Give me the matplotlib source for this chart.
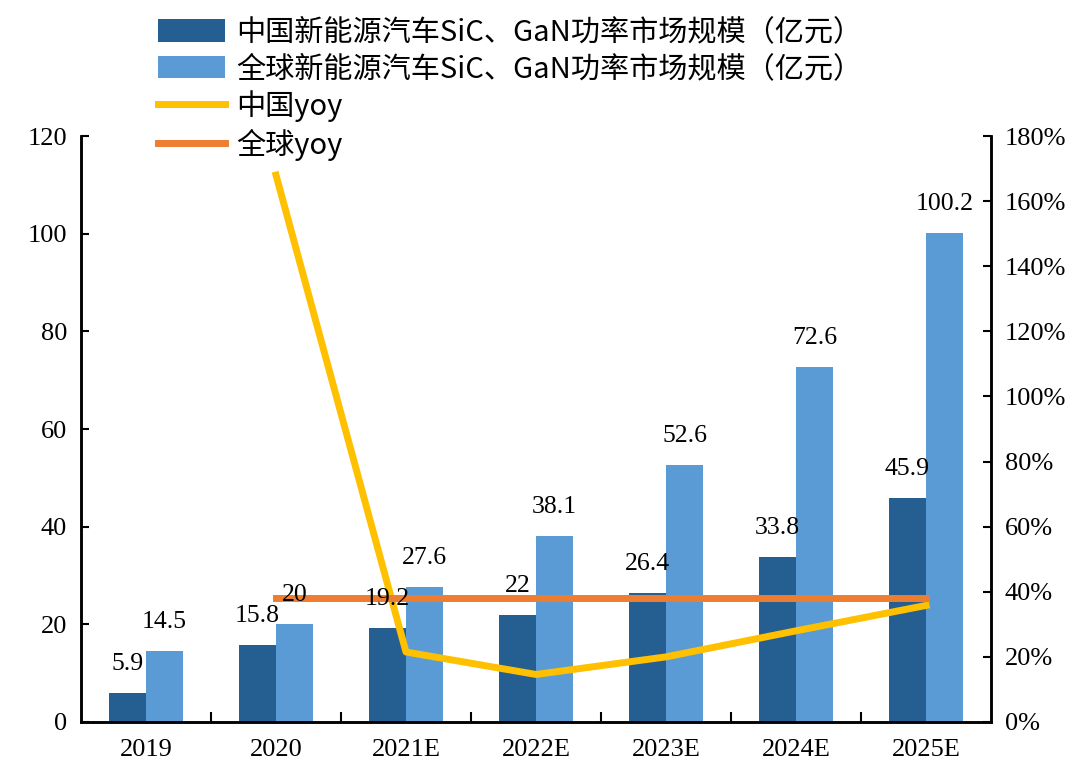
import numpy as np
import matplotlib
matplotlib.use("Agg")
from matplotlib import pyplot as plt
from matplotlib.ticker import FuncFormatter, FixedLocator

# data
years = ["2019", "2020", "2021E", "2022E", "2023E", "2024E", "2025E"]
cn_size = [5.9, 15.8, 19.2, 22, 26.4, 33.8, 45.9]
gl_size = [14.5, 20, 27.6, 38.1, 52.6, 72.6, 100.2]
cn_yoy = [np.nan, 168, 21.5, 14.6, 20, 28, 35.8]
gl_yoy = [np.nan, 38, 38, 38, 38, 38, 38]

cn_color = "#255E91"
gl_color = "#5B9BD5"
cn_line = "#FFC000"
gl_line = "#ED7D31"

serif = "Liberation Serif"
cjk = ["Noto Sans CJK SC", "DejaVu Sans"]

fig = plt.figure(figsize=(10.8, 7.76), dpi=100)
ax = fig.add_axes([0.075, 0.0696, 0.8426, 0.7551])
ax2 = ax.twinx()

x = np.arange(len(years))
w = 0.285
b1 = ax.bar(x - w / 2, cn_size, w, color=cn_color, zorder=2,
            label="中国新能源汽车SiC、GaN功率市场规模（亿元）")
b2 = ax.bar(x + w / 2, gl_size, w, color=gl_color, zorder=2,
            label="全球新能源汽车SiC、GaN功率市场规模（亿元）")

l1, = ax2.plot(x, cn_yoy, color=cn_line, lw=5, zorder=3, label="中国yoy")
l2, = ax2.plot(x, gl_yoy, color=gl_line, lw=5, zorder=4, label="全球yoy")

# value labels (drawn on the twin axes so they sit above the lines)
for xi, v in zip(x - w / 2, cn_size):
    ax2.annotate(f"{v:g}", (xi, v * 1.5), xytext=(0, 13), textcoords="offset points",
                 ha="center", va="bottom", fontsize=18.5, family=serif, zorder=6)
for xi, v in zip(x + w / 2, gl_size):
    ax2.annotate(f"{v:g}", (xi, v * 1.5), xytext=(0, 13), textcoords="offset points",
                 ha="center", va="bottom", fontsize=18.5, family=serif, zorder=6)

ax.set_xlim(-0.5, len(years) - 0.5)
ax.set_ylim(0, 120)
ax2.set_ylim(0, 180)
ax.set_yticks(np.arange(0, 121, 20))
ax2.set_yticks(np.arange(0, 181, 20))
ax2.yaxis.set_major_formatter(FuncFormatter(lambda v, p: f"{v:.0f}%"))

ax.set_xticks(x)
ax.set_xticklabels(years)
ax.xaxis.set_minor_locator(FixedLocator(np.arange(0.5, len(years) - 1, 1)))
ax.tick_params(axis="x", which="major", length=0, pad=12)
ax.tick_params(axis="x", which="minor", direction="in", length=7, width=1.5)
ax.tick_params(axis="y", direction="in", length=6, width=1.5, pad=10)
ax2.tick_params(axis="y", direction="in", length=6, width=1.5, pad=10)

for a in (ax, ax2):
    for lab in a.get_xticklabels() + a.get_yticklabels():
        lab.set_family(serif)
        lab.set_fontsize(19)
    a.spines["top"].set_visible(False)
    for s in ("left", "right", "bottom"):
        a.spines[s].set_linewidth(1.8)

fig.legend(handles=[b1, b2, l1, l2], loc="upper left", bbox_to_anchor=(0.13, 1.0),
           frameon=False, prop={"family": cjk, "size": 21}, handlelength=2.3,
           handleheight=0.8, handletextpad=0.4, labelspacing=0.22, borderaxespad=0.2)

fig.savefig("out.png", dpi=100)
